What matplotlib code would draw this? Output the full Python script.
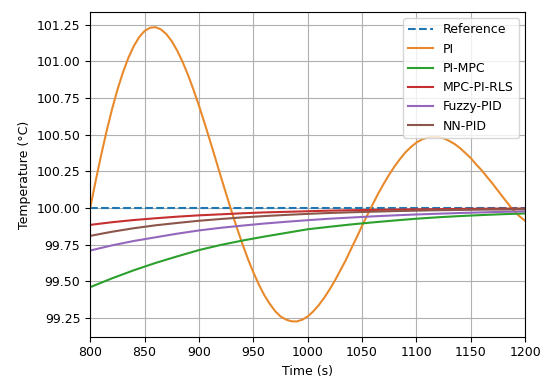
import matplotlib
matplotlib.use("Agg")
import matplotlib.pyplot as plt

# Time axes
t_pi = [800 + 5 * i for i in range(81)]
t_slow = [800 + 20 * i for i in range(21)]

reference = [100.0] * 21

pi = [100.000, 100.184, 100.359, 100.522, 100.672, 100.806, 100.923, 101.023, 101.104,
      101.166, 101.208, 101.230, 101.234, 101.219, 101.187, 101.138, 101.074, 100.996,
      100.907, 100.806, 100.698, 100.583, 100.463, 100.341, 100.217, 100.096, 99.977,
      99.862, 99.754, 99.653, 99.561, 99.479, 99.406, 99.347, 99.297, 99.260, 99.239,
      99.227, 99.226, 99.238, 99.260, 99.294, 99.336, 99.386, 99.443, 99.505, 99.575,
      99.644, 99.723, 99.799, 99.879, 99.955, 100.029, 100.101, 100.167, 100.229, 100.286,
      100.336, 100.381, 100.417, 100.447, 100.468, 100.481, 100.487, 100.485, 100.476,
      100.458, 100.437, 100.409, 100.375, 100.340, 100.296, 100.257, 100.211, 100.166,
      100.117, 100.069, 100.022, 99.977, 99.942, 99.912]

pi_mpc = [99.46, 99.52, 99.575, 99.625, 99.67, 99.713, 99.748, 99.778, 99.805, 99.83,
          99.855, 99.872, 99.888, 99.902, 99.915, 99.927, 99.937, 99.945, 99.952, 99.958, 99.963]

mpc_pi_rls = [99.885, 99.903, 99.918, 99.93, 99.941, 99.95, 99.957, 99.964, 99.97, 99.974,
              99.978, 99.982, 99.985, 99.987, 99.989, 99.991, 99.992, 99.994, 99.995, 99.996, 99.996]

fuzzy_pid = [99.71, 99.745, 99.775, 99.80, 99.825, 99.847, 99.865, 99.88, 99.894, 99.906,
             99.917, 99.927, 99.935, 99.943, 99.95, 99.956, 99.961, 99.966, 99.97, 99.974, 99.977]

nn_pid = [99.81, 99.838, 99.862, 99.882, 99.898, 99.913, 99.925, 99.936, 99.945, 99.953,
          99.96, 99.966, 99.971, 99.975, 99.979, 99.982, 99.985, 99.987, 99.989, 99.99, 99.992]

plt.rcParams['font.size'] = 9
fig = plt.figure(figsize=(5.5, 3.82), dpi=100)
ax = fig.add_axes([0.164, 0.119, 0.791, 0.849])

ax.plot(t_slow, reference, '--', color='#1f77b4', label='Reference')
ax.plot(t_pi, pi, color='#e88a2c', label='PI')
ax.plot(t_slow, pi_mpc, color='#2ca02c', label='PI-MPC')
ax.plot(t_slow, mpc_pi_rls, color='#c62f30', label='MPC-PI-RLS')
ax.plot(t_slow, fuzzy_pid, color='#9467bd', label='Fuzzy-PID')
ax.plot(t_slow, nn_pid, color='#8c564b', label='NN-PID')

ax.set_xlim(800, 1200)
ax.set_yticks([99.25, 99.5, 99.75, 100.0, 100.25, 100.5, 100.75, 101.0, 101.25])
ax.set_ylim(99.123, 101.336)
ax.set_xlabel('Time (s)')
ax.set_ylabel('Temperature (°C)')
ax.grid(True)
ax.legend(loc='upper right')

fig.savefig('out.png', dpi=100)
